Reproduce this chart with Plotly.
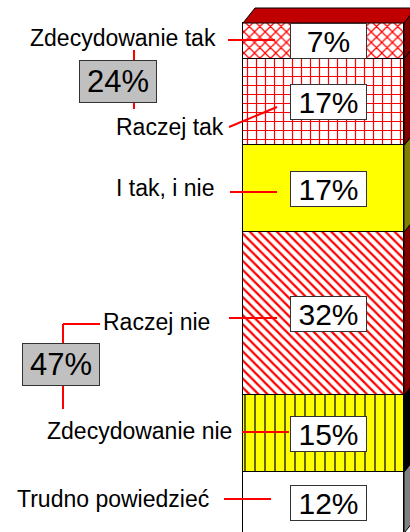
import plotly.graph_objects as go

# ---------------- data ----------------
categories = ["Trudno powiedzieć", "Zdecydowanie nie", "Raczej nie",
              "I tak, i nie", "Raczej tak", "Zdecydowanie tak"]
values = [12, 15, 32, 17, 17, 7]
value_labels = ["12%", "15%", "32%", "17%", "17%", "7%"]
group_members = [["Zdecydowanie tak", "Raczej tak"], ["Raczej nie", "Zdecydowanie nie"]]

# ---------------- styles ----------------
front_bg = ["#ffffff", "#ffff00", "#ffffff", "#ffff00", "#ffffff", "#ffffff"]
pattern_shape = ["", "|", "\\", "", "+", "x"]
pattern_fg = ["#ff0000", "#000000", "#ff0000", "#ff0000", "#ff0000", "#ff0000"]
pattern_size = [8, 10, 6.4, 8, 9, 7.5]
pattern_solidity = [0.2, 0.12, 0.35, 0.2, 0.25, 0.3]
side_color = ["#808080", "#000000", "#800000", "#808000", "#800000", "#800000"]
top_color = "#c00000"

W, H = 410, 532
PX_PER_UNIT = 5.102
ZERO_PX = 533.2
Y_TOP = ZERO_PX / PX_PER_UNIT
Y_BOT = (ZERO_PX - H) / PX_PER_UNIT


def y_of(px):
    return (ZERO_PX - px) / PX_PER_UNIT


BAR_X0, BAR_X1 = 243, 404
BAR_X = (BAR_X0 + BAR_X1) / 2
BAR_W = BAR_X1 - BAR_X0
DX = 12
DY = 15 / PX_PER_UNIT
FONT = "Liberation Sans, Arial, sans-serif"

fig = go.Figure()

# stacked bar front faces
for cat, v, bg, shp, fg, sz, sol in zip(categories, values, front_bg, pattern_shape,
                                        pattern_fg, pattern_size, pattern_solidity):
    fig.add_trace(go.Bar(
        x=[BAR_X], y=[v], width=[BAR_W], name=cat,
        marker=dict(color=bg, line=dict(color="#000000", width=1),
                    pattern=dict(shape=shp, fgcolor=fg, bgcolor=bg, size=sz,
                                 solidity=sol, fillmode="replace")),
        hoverinfo="skip", showlegend=False,
    ))

# 3D side faces derived from cumulative values
cum = 0
bounds = []
for v in values:
    bounds.append((cum, cum + v))
    cum += v
for (b, t), col in zip(bounds, side_color):
    fig.add_trace(go.Scatter(
        x=[BAR_X1, BAR_X1 + DX, BAR_X1 + DX, BAR_X1, BAR_X1],
        y=[b, b + DY, t + DY, t, b],
        fill="toself", fillcolor=col, mode="lines",
        line=dict(color="#000000", width=1), hoverinfo="skip", showlegend=False))
total = cum
fig.add_trace(go.Scatter(
    x=[BAR_X0, BAR_X1, BAR_X1 + DX, BAR_X0 + DX, BAR_X0],
    y=[total, total, total + DY, total + DY, total],
    fill="toself", fillcolor=top_color, mode="lines",
    line=dict(color="#000000", width=1), hoverinfo="skip", showlegend=False))

annotations = []
shapes = []

# value boxes
for (b, t), lab in zip(bounds, value_labels):
    annotations.append(dict(
        x=328, y=(b + t) / 2, xref="x", yref="y", text=lab, showarrow=False,
        font=dict(family=FONT, size=30, color="#000000"),
        bgcolor="#ffffff", bordercolor="#333333", borderwidth=1, borderpad=1,
        width=73, height=32, xanchor="center", yanchor="middle"))

# category labels (layout positions in px) and red connector lines
label_layout = {
    "Zdecydowanie tak": dict(tx=218, ty=38, line=(228, 40, 275, 40)),
    "Raczej tak": dict(tx=226, ty=127, line=(229, 127, 277, 107)),
    "I tak, i nie": dict(tx=216, ty=188, line=(230, 192, 277, 192)),
    "Raczej nie": dict(tx=212, ty=322, line=(229, 318, 277, 318)),
    "Zdecydowanie nie": dict(tx=234, ty=431, line=(242, 432, 289, 432)),
    "Trudno powiedzieć": dict(tx=211, ty=499, line=(224, 499, 271, 499)),
}
for cat in categories:
    L = label_layout[cat]
    annotations.append(dict(
        x=L["tx"], y=y_of(L["ty"]), xref="x", yref="y", text=cat, showarrow=False,
        font=dict(family=FONT, size=23, color="#000000"),
        xanchor="right", yanchor="middle"))
    x0, y0, x1, y1 = L["line"]
    shapes.append(dict(type="line", xref="x", yref="y", x0=x0, y0=y_of(y0),
                       x1=x1, y1=y_of(y1), line=dict(color="#ff0000", width=2)))

# group totals
group_layout = [
    dict(cx=118, cy=81.5, lines=[(134, 50, 134, 61), (134, 102, 134, 109)]),
    dict(cx=60.5, cy=364.5, lines=[(63, 324, 100, 324), (63, 324, 63, 343),
                                   (63, 386, 63, 409)]),
]
for members, G in zip(group_members, group_layout):
    tot = sum(values[categories.index(m)] for m in members)
    annotations.append(dict(
        x=G["cx"], y=y_of(G["cy"]), xref="x", yref="y", text=f"{tot}%",
        showarrow=False, font=dict(family=FONT, size=31, color="#000000"),
        bgcolor="#c0c0c0", bordercolor="#333333", borderwidth=1, borderpad=1,
        width=74, height=39, xanchor="center", yanchor="middle"))
    for x0, y0, x1, y1 in G["lines"]:
        shapes.append(dict(type="line", xref="x", yref="y", x0=x0, y0=y_of(y0),
                           x1=x1, y1=y_of(y1), line=dict(color="#ff0000", width=2)))

fig.update_layout(
    width=W, height=H, margin=dict(l=0, r=0, t=0, b=0),
    paper_bgcolor="#ffffff", plot_bgcolor="#ffffff",
    barmode="stack", bargap=0,
    xaxis=dict(range=[0, W], visible=False, fixedrange=True),
    yaxis=dict(range=[Y_BOT, Y_TOP], visible=False, fixedrange=True),
    annotations=annotations, shapes=shapes, showlegend=False,
)

fig.write_html("out.html", config={"displayModeBar": False},
               post_script="document.body.style.margin='0';document.body.style.padding='0';"
                           "document.documentElement.style.overflow='hidden';")
